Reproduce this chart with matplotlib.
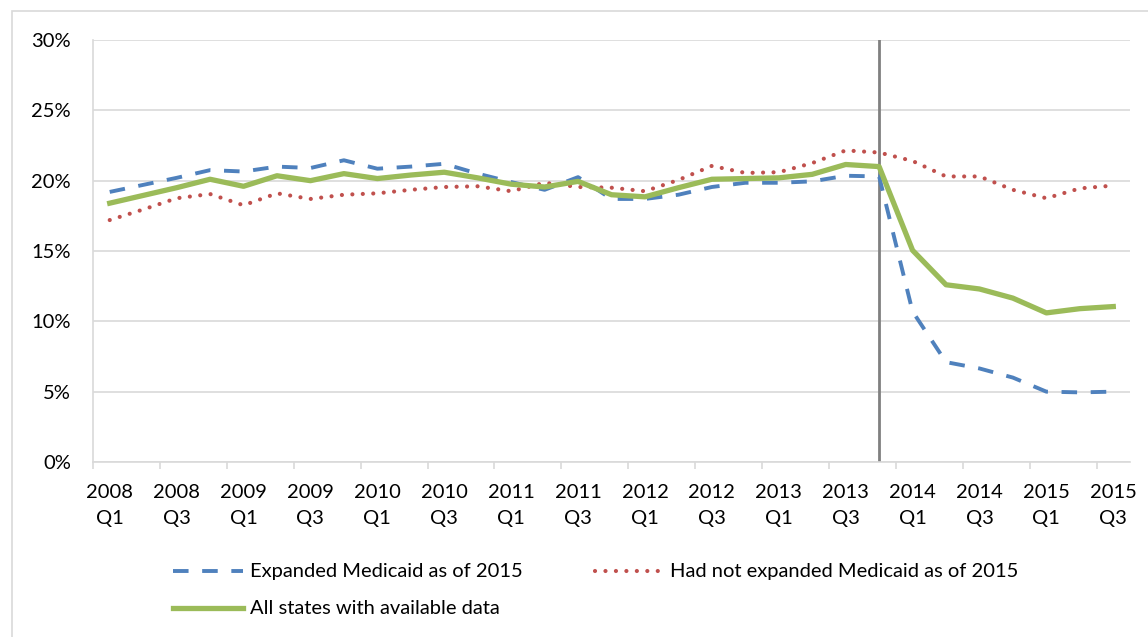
import numpy as np
import matplotlib.pyplot as plt
from matplotlib.lines import Line2D
from matplotlib.patches import Rectangle

# uninsured rate (%) by quarter, 2008 Q1 .. 2015 Q3
expanded = [19.2, 19.7, 20.2, 20.75, 20.65, 21.0, 20.9, 21.45, 20.85, 21.0,
            21.2, 20.5, 19.9, 19.35, 20.25, 18.7, 18.7, 19.0, 19.55, 19.85,
            19.85, 19.95, 20.35, 20.3, 10.7, 7.1, 6.65, 6.0, 5.0, 4.95, 5.0]
not_expanded = [17.2, 17.95, 18.75, 19.05, 18.25, 19.1, 18.7, 19.0, 19.1, 19.35,
                19.55, 19.6, 19.25, 19.85, 19.55, 19.5, 19.25, 20.05, 21.05, 20.55,
                20.6, 21.25, 22.15, 22.0, 21.4, 20.3, 20.3, 19.35, 18.75, 19.45, 19.65]
all_states = [18.4, 18.95, 19.5, 20.1, 19.6, 20.35, 20.0, 20.5, 20.15, 20.4,
              20.6, 20.2, 19.75, 19.55, 19.95, 19.0, 18.85, 19.5, 20.1, 20.15,
              20.2, 20.45, 21.15, 21.0, 15.05, 12.6, 12.3, 11.65, 10.6, 10.9, 11.05]

tick_labels = ['2008\nQ1', '2008\nQ3', '2009\nQ1', '2009\nQ3', '2010\nQ1', '2010\nQ3',
               '2011\nQ1', '2011\nQ3', '2012\nQ1', '2012\nQ3', '2013\nQ1', '2013\nQ3',
               '2014\nQ1', '2014\nQ3', '2015\nQ1', '2015\nQ3']
expansion_quarter = 23  # 2013 Q4

labels = ['Expanded Medicaid as of 2015',
          'Had not expanded Medicaid as of 2015',
          'All states with available data']

BLUE = '#4F81BD'
RED = '#C0504D'
GREEN = '#9BBB59'
GRID = '#D9D9D9'

blue_style = dict(color=BLUE, lw=2.8, linestyle=(0, (4, 3.5)))
red_style = dict(color=RED, lw=3.0, linestyle=(0, (0.01, 2.5)), dash_capstyle='round')
green_style = dict(color=GREEN, lw=3.8, solid_joinstyle='round')

plt.rcParams['font.family'] = ['Lato', 'DejaVu Sans']
plt.rcParams['font.size'] = 14.5

W, H = 1148, 637
fig = plt.figure(figsize=(W / 100, H / 100), dpi=100)
ax = fig.add_axes([93 / W, 1 - 462 / H, (1130 - 93) / W, (462 - 40) / H])

x = np.arange(len(expanded))
ax.plot(x, expanded, zorder=3, **blue_style)
ax.plot(x, not_expanded, zorder=3, **red_style)
ax.plot(x, all_states, zorder=4, **green_style)
ax.axvline(expansion_quarter, color='#808080', lw=2, zorder=2)

ax.set_xlim(-0.5, len(expanded) - 0.5)
ax.set_ylim(0, 30)
ax.set_yticks(np.arange(0, 31, 5))
ax.set_yticklabels([f'{v}%' for v in range(0, 31, 5)])
ax.yaxis.grid(True, color=GRID, lw=1.2)
ax.set_axisbelow(True)

ax.set_xticks(np.arange(0, len(expanded), 2))
ax.set_xticklabels(tick_labels, linespacing=1.6)
ax.set_xticks(np.arange(-0.5, len(expanded) - 1, 2), minor=True)
ax.tick_params(axis='x', which='major', length=0, pad=16)
ax.tick_params(axis='x', which='minor', length=5, width=1.2, color=GRID)
ax.tick_params(axis='y', length=0, pad=16)

for side in ['top', 'right']:
    ax.spines[side].set_visible(False)
for side in ['left', 'bottom']:
    ax.spines[side].set_color(GRID)
    ax.spines[side].set_linewidth(1.2)

# legend, placed by hand like the original
def legend_entry(x0, x1, y, text, style):
    fig.add_artist(Line2D([x0 / W, x1 / W], [1 - y / H, 1 - y / H], **style))
    fig.text((x1 + 7) / W, 1 - y / H, text, va='center', ha='left')

legend_entry(173, 243, 571, labels[0], blue_style)
legend_entry(595, 663, 571, labels[1], red_style)
legend_entry(173, 243, 608, labels[2], green_style)

# chart frame
fig.add_artist(Rectangle((12 / W, -0.1), 1.2, 1.1 - 11 / H, transform=fig.transFigure,
                         fill=False, edgecolor=GRID, lw=1.2))

fig.savefig('out.png', dpi=100)
